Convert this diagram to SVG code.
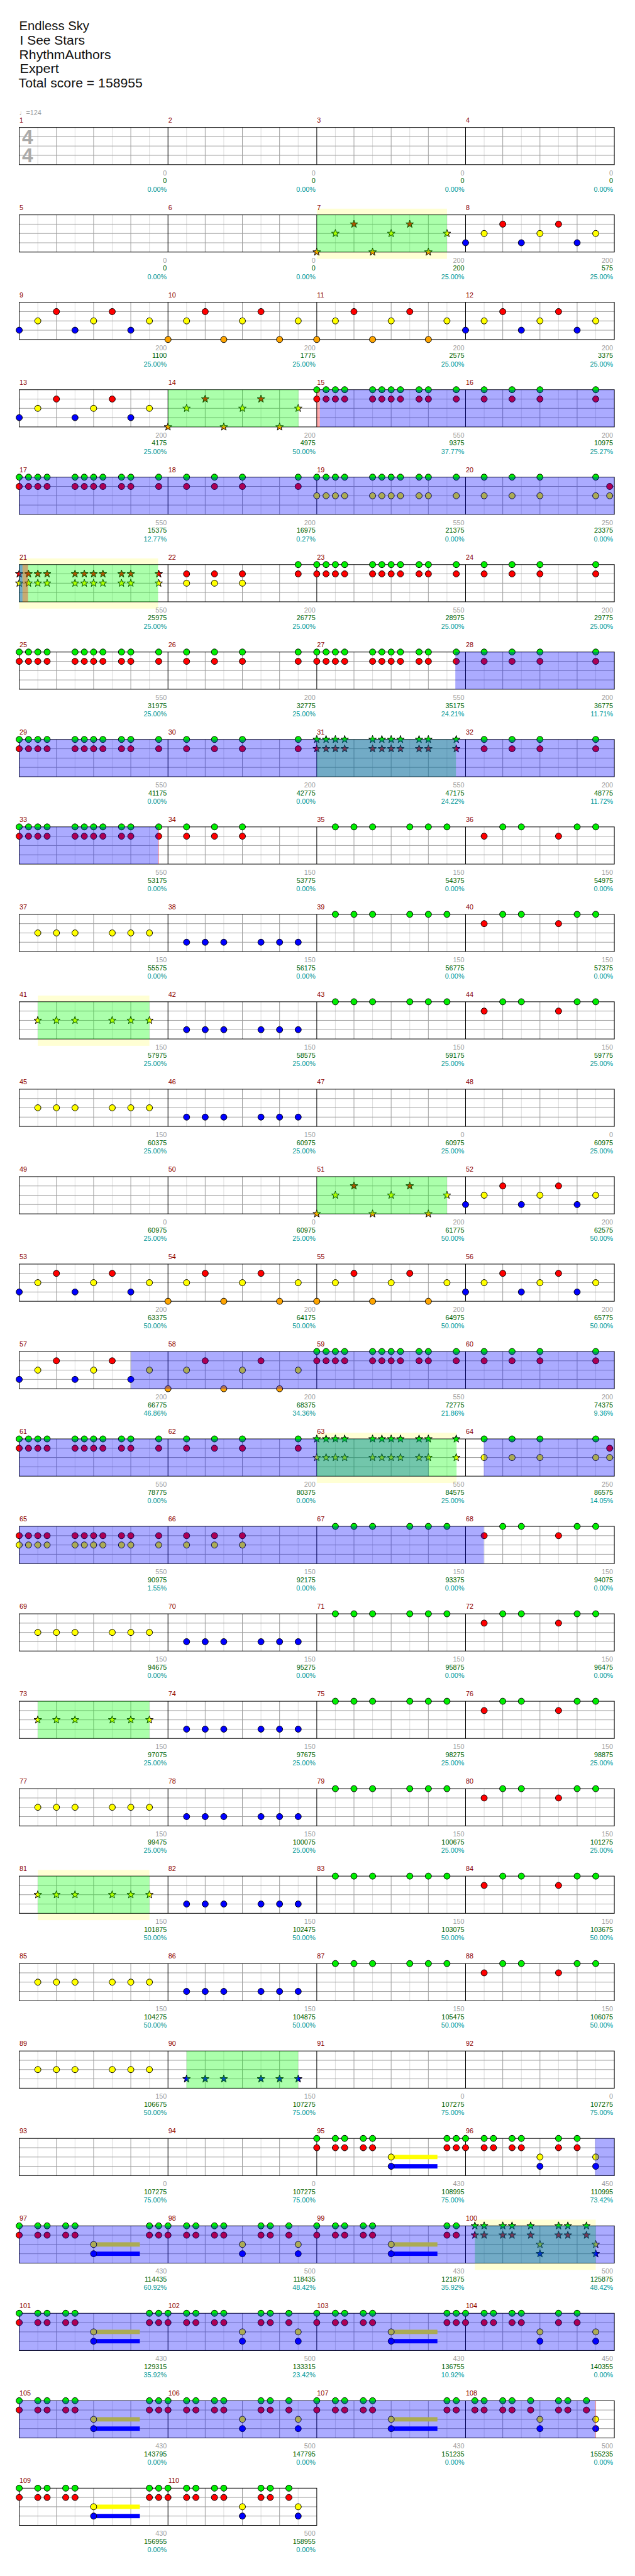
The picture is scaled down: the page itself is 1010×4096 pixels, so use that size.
<svg xmlns="http://www.w3.org/2000/svg" width="1010" height="4096" viewBox="0 0 1010 4096">
<style>
.n{stroke:#000;stroke-width:1}
.mn{font-family:"Liberation Sans",Arial,sans-serif;font-size:11px;fill:#8b0000}
.g,.s,.p{font-family:"Liberation Sans",Arial,sans-serif;font-size:11px;text-anchor:end}
.g{fill:#a0a0a0}.s{fill:#006400}.p{fill:#009999}
.ti{font-family:"Liberation Sans",Arial,sans-serif;font-size:20px;fill:#111}
.tp{font-family:"Liberation Sans","DejaVu Sans",sans-serif;font-size:11px;fill:#a0a0a0}
.ts{font-family:"Liberation Sans",Arial,sans-serif;font-size:32px;font-weight:bold;fill:#aaa}
.gr{fill:#0f0;fill-opacity:.33}
.bl{fill:#00f;fill-opacity:.33}
.rd{fill:#f00;fill-opacity:.33}
.bd{fill:#ffffd4}
</style>
<defs>
<g id="meas"><path d="M30 0V60M90 0V60M150 0V60M210 0V60" stroke="#dcdcdc"/><path d="M60 0V60M120 0V60M180 0V60M0 15H240M0 30H240M0 45H240" stroke="#a0a0a0"/></g>
<g id="row4"><rect width="960" height="60" fill="#fff"/><use href="#meas"/><use href="#meas" x="240"/><use href="#meas" x="480"/><use href="#meas" x="720"/><path d="M240 0V60M480 0V60M720 0V60" stroke="#000"/><rect width="960" height="60" fill="none" stroke="#000"/></g>
<g id="row2"><rect width="480" height="60" fill="#fff"/><use href="#meas"/><use href="#meas" x="240"/><path d="M240 0V60" stroke="#000"/><rect width="480" height="60" fill="none" stroke="#000"/></g>
<circle id="G" class="n" r="5" fill="#00ee00"/>
<circle id="R" class="n" cy="15" r="5" fill="#f00"/>
<circle id="Y" class="n" cy="30" r="5" fill="#ff0"/>
<circle id="B" class="n" cy="45" r="5" fill="#00f"/>
<circle id="O" class="n" cy="60" r="5" fill="#ffa500"/>
<path id="st" class="n" d="M0-6.5L1.53-2.1 6.18-2.01 2.47.8 3.82 5.26 0 2.6-3.82 5.26-2.47.8-6.18-2.01-1.53-2.1Z"/>
<use id="sG" href="#st" fill="#00ee00"/>
<use id="sR" href="#st" y="15" fill="#f00"/>
<use id="sY" href="#st" y="30" fill="#ff0"/>
<use id="sB" href="#st" y="45" fill="#00f"/>
<use id="sO" href="#st" y="60" fill="#ffa500"/>
<g id="GR"><use href="#G"/><use href="#R"/></g>
<g id="GY"><use href="#G"/><use href="#Y"/></g>
<g id="RY"><use href="#R"/><use href="#Y"/></g>
<g id="YB"><use href="#Y"/><use href="#B"/></g>
<g id="sGR"><use href="#sG"/><use href="#sR"/></g>
<g id="sGY"><use href="#sG"/><use href="#sY"/></g>
<g id="sRY"><use href="#sR"/><use href="#sY"/></g>
<g id="sYB"><use href="#sY"/><use href="#sB"/></g>
<g id="pBYR"><use href="#B"/><use href="#Y" x="30"/><use href="#R" x="60"/><use href="#B" x="90"/><use href="#Y" x="120"/><use href="#R" x="150"/><use href="#B" x="180"/><use href="#Y" x="210"/></g>
<g id="pOYR"><use href="#O"/><use href="#Y" x="30"/><use href="#R" x="60"/><use href="#O" x="90"/><use href="#Y" x="120"/><use href="#R" x="150"/><use href="#O" x="180"/><use href="#Y" x="210"/></g>
<g id="pOYRs"><use href="#sO"/><use href="#sY" x="30"/><use href="#sR" x="60"/><use href="#sO" x="90"/><use href="#sY" x="120"/><use href="#sR" x="150"/><use href="#sO" x="180"/><use href="#sY" x="210"/></g>
<g id="aGR"><use href="#GR"/><use href="#GR" x="15"/><use href="#GR" x="30"/><use href="#GR" x="45"/><use href="#GR" x="90"/><use href="#GR" x="105"/><use href="#GR" x="120"/><use href="#GR" x="135"/><use href="#GR" x="165"/><use href="#GR" x="180"/><use href="#GR" x="225"/></g>
<g id="aGY"><use href="#GY"/><use href="#GY" x="15"/><use href="#GY" x="30"/><use href="#GY" x="45"/><use href="#GY" x="90"/><use href="#GY" x="105"/><use href="#GY" x="120"/><use href="#GY" x="135"/><use href="#GY" x="165"/><use href="#GY" x="180"/><use href="#GY" x="225"/></g>
<g id="aRY"><use href="#RY"/><use href="#RY" x="15"/><use href="#RY" x="30"/><use href="#RY" x="45"/><use href="#RY" x="90"/><use href="#RY" x="105"/><use href="#RY" x="120"/><use href="#RY" x="135"/><use href="#RY" x="165"/><use href="#RY" x="180"/><use href="#RY" x="225"/></g>
<g id="asGR"><use href="#sGR"/><use href="#sGR" x="15"/><use href="#sGR" x="30"/><use href="#sGR" x="45"/><use href="#sGR" x="90"/><use href="#sGR" x="105"/><use href="#sGR" x="120"/><use href="#sGR" x="135"/><use href="#sGR" x="165"/><use href="#sGR" x="180"/><use href="#sGR" x="225"/></g>
<g id="asGY"><use href="#sGY"/><use href="#sGY" x="15"/><use href="#sGY" x="30"/><use href="#sGY" x="45"/><use href="#sGY" x="90"/><use href="#sGY" x="105"/><use href="#sGY" x="120"/><use href="#sGY" x="135"/><use href="#sGY" x="165"/><use href="#sGY" x="180"/><use href="#sGY" x="225"/></g>
<g id="asRY"><use href="#sRY"/><use href="#sRY" x="15"/><use href="#sRY" x="30"/><use href="#sRY" x="45"/><use href="#sRY" x="90"/><use href="#sRY" x="105"/><use href="#sRY" x="120"/><use href="#sRY" x="135"/><use href="#sRY" x="165"/><use href="#sRY" x="180"/><use href="#sRY" x="225"/></g>
<g id="bGR"><use href="#GR" x="30"/><use href="#GR" x="75"/><use href="#GR" x="120"/><use href="#GR" x="210"/></g>
<g id="bGY"><use href="#GY" x="30"/><use href="#GY" x="75"/><use href="#GY" x="120"/><use href="#GY" x="210"/></g>
<g id="kY"><use href="#Y" x="30"/><use href="#Y" x="60"/><use href="#Y" x="90"/><use href="#Y" x="150"/><use href="#Y" x="180"/><use href="#Y" x="210"/></g>
<g id="kB"><use href="#B" x="30"/><use href="#B" x="60"/><use href="#B" x="90"/><use href="#B" x="150"/><use href="#B" x="180"/><use href="#B" x="210"/></g>
<g id="kG"><use href="#G" x="30"/><use href="#G" x="60"/><use href="#G" x="90"/><use href="#G" x="150"/><use href="#G" x="180"/><use href="#G" x="210"/></g>
<g id="ksY"><use href="#sY" x="30"/><use href="#sY" x="60"/><use href="#sY" x="90"/><use href="#sY" x="150"/><use href="#sY" x="180"/><use href="#sY" x="210"/></g>
<g id="ksB"><use href="#sB" x="30"/><use href="#sB" x="60"/><use href="#sB" x="90"/><use href="#sB" x="150"/><use href="#sB" x="180"/><use href="#sB" x="210"/></g>
<g id="rg"><use href="#R" x="30"/><use href="#G" x="60"/><use href="#G" x="90"/><use href="#R" x="150"/><use href="#G" x="180"/><use href="#G" x="210"/></g>
<g id="pC"><rect x="120" y="26.5" width="74.6" height="7" fill="#ff0"/><rect x="120" y="41.5" width="74.6" height="7" fill="#00f"/><use href="#GR"/><use href="#GR" x="30"/><use href="#GR" x="45"/><use href="#GR" x="75"/><use href="#GR" x="90"/><use href="#YB" x="120"/><use href="#GR" x="210"/><use href="#GR" x="225"/></g>
<g id="pD1"><use href="#GR"/><use href="#GR" x="30"/><use href="#GR" x="45"/><use href="#GR" x="75"/><use href="#GR" x="90"/><use href="#YB" x="120"/><use href="#GR" x="150"/><use href="#GR" x="180"/><use href="#YB" x="210"/></g>
<g id="pD2"><use href="#GR"/><use href="#GR" x="30"/><use href="#GR" x="45"/><use href="#GR" x="75"/><use href="#GR" x="90"/><use href="#YB" x="120"/><use href="#GR" x="150"/><use href="#GR" x="165"/><use href="#GR" x="195"/><use href="#YB" x="210"/></g>
<g id="pD3"><use href="#GR" x="15"/><use href="#GR" x="30"/><use href="#GR" x="60"/><use href="#GR" x="75"/><use href="#GR" x="105"/><use href="#YB" x="120"/><use href="#GR" x="150"/><use href="#GR" x="165"/><use href="#GR" x="195"/><use href="#YB" x="210"/></g>
<g id="pD3s"><use href="#sGR" x="15"/><use href="#sGR" x="30"/><use href="#sGR" x="60"/><use href="#sGR" x="75"/><use href="#sGR" x="105"/><use href="#sYB" x="120"/><use href="#sGR" x="150"/><use href="#sGR" x="165"/><use href="#sGR" x="195"/><use href="#sYB" x="210"/></g>
</defs>
<g transform="scale(0.986)">
<rect x="0" y="0" width="1024" height="4153" fill="#fff"/>
<g id="title">
<text class="ti" x="31" y="49" textLength="113" lengthAdjust="spacingAndGlyphs">Endless Sky</text>
<text class="ti" x="32" y="72" textLength="105" lengthAdjust="spacingAndGlyphs">I See Stars</text>
<text class="ti" x="31" y="95" textLength="148" lengthAdjust="spacingAndGlyphs">RhythmAuthors</text>
<text class="ti" x="32" y="118" textLength="63" lengthAdjust="spacingAndGlyphs">Expert</text>
<text class="ti" x="30" y="141" textLength="200" lengthAdjust="spacingAndGlyphs">Total score = 158955</text>
</g>

<g id="r0" transform="translate(31,205.5)">
<use href="#row4"/>
<text class="tp" x="0" y="-20">♩=124</text>
<text class="ts" x="4.5" y="26.5">4</text><text class="ts" x="4.5" y="56.5">4</text>
<text class="mn" x="0.5" y="-8">1</text><text class="mn" x="240.5" y="-8">2</text><text class="mn" x="480.5" y="-8">3</text><text class="mn" x="720.5" y="-8">4</text>
<text class="g" x="238" y="77">0</text><text class="s" x="238" y="90">0</text><text class="p" x="238" y="103.5">0.00%</text>
<text class="g" x="478" y="77">0</text><text class="s" x="478" y="90">0</text><text class="p" x="478" y="103.5">0.00%</text>
<text class="g" x="718" y="77">0</text><text class="s" x="718" y="90">0</text><text class="p" x="718" y="103.5">0.00%</text>
<text class="g" x="958" y="77">0</text><text class="s" x="958" y="90">0</text><text class="p" x="958" y="103.5">0.00%</text>
</g>

<g id="r1" transform="translate(31,346.5)">
<rect class="bd" x="480" y="-10" width="210" height="81"/>
<use href="#row4"/>
<use href="#pOYRs" x="480"/><use href="#pBYR" x="720"/>
<rect class="gr" x="480" width="210" height="60"/>
<text class="mn" x="0.5" y="-8">5</text><text class="mn" x="240.5" y="-8">6</text><text class="mn" x="480.5" y="-8">7</text><text class="mn" x="720.5" y="-8">8</text>
<text class="g" x="238" y="77">0</text><text class="s" x="238" y="90">0</text><text class="p" x="238" y="103.5">0.00%</text>
<text class="g" x="478" y="77">0</text><text class="s" x="478" y="90">0</text><text class="p" x="478" y="103.5">0.00%</text>
<text class="g" x="718" y="77">200</text><text class="s" x="718" y="90">200</text><text class="p" x="718" y="103.5">25.00%</text>
<text class="g" x="958" y="77">200</text><text class="s" x="958" y="90">575</text><text class="p" x="958" y="103.5">25.00%</text>
</g>

<g id="r2" transform="translate(31,487.5)">
<use href="#row4"/>
<use href="#pBYR"/><use href="#pOYR" x="240"/><use href="#pOYR" x="480"/><use href="#pBYR" x="720"/>
<text class="mn" x="0.5" y="-8">9</text><text class="mn" x="240.5" y="-8">10</text><text class="mn" x="480.5" y="-8">11</text><text class="mn" x="720.5" y="-8">12</text>
<text class="g" x="238" y="77">200</text><text class="s" x="238" y="90">1100</text><text class="p" x="238" y="103.5">25.00%</text>
<text class="g" x="478" y="77">200</text><text class="s" x="478" y="90">1775</text><text class="p" x="478" y="103.5">25.00%</text>
<text class="g" x="718" y="77">200</text><text class="s" x="718" y="90">2575</text><text class="p" x="718" y="103.5">25.00%</text>
<text class="g" x="958" y="77">200</text><text class="s" x="958" y="90">3375</text><text class="p" x="958" y="103.5">25.00%</text>
</g>

<g id="r3" transform="translate(31,628.5)">
<use href="#row4"/>
<use href="#pBYR"/><use href="#pOYRs" x="240"/><use href="#aGR" x="480"/><use href="#bGR" x="720"/>
<rect class="gr" x="240" width="210.5" height="60"/>
<rect class="rd" x="480" width="5" height="60"/>
<rect class="bl" x="485" width="475" height="60"/>
<text class="mn" x="0.5" y="-8">13</text><text class="mn" x="240.5" y="-8">14</text><text class="mn" x="480.5" y="-8">15</text><text class="mn" x="720.5" y="-8">16</text>
<text class="g" x="238" y="77">200</text><text class="s" x="238" y="90">4175</text><text class="p" x="238" y="103.5">25.00%</text>
<text class="g" x="478" y="77">200</text><text class="s" x="478" y="90">4975</text><text class="p" x="478" y="103.5">50.00%</text>
<text class="g" x="718" y="77">550</text><text class="s" x="718" y="90">9375</text><text class="p" x="718" y="103.5">37.77%</text>
<text class="g" x="958" y="77">200</text><text class="s" x="958" y="90">10975</text><text class="p" x="958" y="103.5">25.27%</text>
</g>

<g id="r4" transform="translate(31,769.5)">
<use href="#row4"/>
<use href="#aGR"/><use href="#bGR" x="240"/><use href="#aGY" x="480"/><use href="#bGY" x="720"/><use href="#RY" x="952.5"/>
<rect class="bl" x="0" width="960" height="60"/>
<text class="mn" x="0.5" y="-8">17</text><text class="mn" x="240.5" y="-8">18</text><text class="mn" x="480.5" y="-8">19</text><text class="mn" x="720.5" y="-8">20</text>
<text class="g" x="238" y="77">550</text><text class="s" x="238" y="90">15375</text><text class="p" x="238" y="103.5">12.77%</text>
<text class="g" x="478" y="77">200</text><text class="s" x="478" y="90">16975</text><text class="p" x="478" y="103.5">0.27%</text>
<text class="g" x="718" y="77">550</text><text class="s" x="718" y="90">21375</text><text class="p" x="718" y="103.5">0.00%</text>
<text class="g" x="958" y="77">250</text><text class="s" x="958" y="90">23375</text><text class="p" x="958" y="103.5">0.00%</text>
</g>

<g id="r5" transform="translate(31,910.5)">
<rect class="bd" x="0" y="-10" width="224" height="81"/>
<use href="#row4"/>
<use href="#asRY"/><use href="#RY" x="270"/><use href="#RY" x="315"/><use href="#RY" x="360"/><use href="#GR" x="450"/><use href="#aGR" x="480"/><use href="#bGR" x="720"/>
<rect class="gr" x="0" width="224" height="60"/>
<rect class="bl" x="0" width="5.3" height="60"/>
<rect class="rd" x="5.3" width="9" height="60"/>
<text class="mn" x="0.5" y="-8">21</text><text class="mn" x="240.5" y="-8">22</text><text class="mn" x="480.5" y="-8">23</text><text class="mn" x="720.5" y="-8">24</text>
<text class="g" x="238" y="77">550</text><text class="s" x="238" y="90">25975</text><text class="p" x="238" y="103.5">25.00%</text>
<text class="g" x="478" y="77">200</text><text class="s" x="478" y="90">26775</text><text class="p" x="478" y="103.5">25.00%</text>
<text class="g" x="718" y="77">550</text><text class="s" x="718" y="90">28975</text><text class="p" x="718" y="103.5">25.00%</text>
<text class="g" x="958" y="77">200</text><text class="s" x="958" y="90">29775</text><text class="p" x="958" y="103.5">25.00%</text>
</g>

<g id="r6" transform="translate(31,1051.5)">
<use href="#row4"/>
<use href="#aGR"/><use href="#bGR" x="240"/><use href="#aGR" x="480"/><use href="#bGR" x="720"/>
<rect class="bl" x="703.5" width="256.5" height="60"/>
<text class="mn" x="0.5" y="-8">25</text><text class="mn" x="240.5" y="-8">26</text><text class="mn" x="480.5" y="-8">27</text><text class="mn" x="720.5" y="-8">28</text>
<text class="g" x="238" y="77">550</text><text class="s" x="238" y="90">31975</text><text class="p" x="238" y="103.5">25.00%</text>
<text class="g" x="478" y="77">200</text><text class="s" x="478" y="90">32775</text><text class="p" x="478" y="103.5">25.00%</text>
<text class="g" x="718" y="77">550</text><text class="s" x="718" y="90">35175</text><text class="p" x="718" y="103.5">24.21%</text>
<text class="g" x="958" y="77">200</text><text class="s" x="958" y="90">36775</text><text class="p" x="958" y="103.5">11.71%</text>
</g>

<g id="r7" transform="translate(31,1192.5)">
<use href="#row4"/>
<use href="#aGR"/><use href="#bGR" x="240"/><use href="#asGR" x="480"/><use href="#bGR" x="720"/>
<rect class="gr" x="480" width="224.5" height="60"/>
<rect class="bl" x="0" width="960" height="60"/>
<text class="mn" x="0.5" y="-8">29</text><text class="mn" x="240.5" y="-8">30</text><text class="mn" x="480.5" y="-8">31</text><text class="mn" x="720.5" y="-8">32</text>
<text class="g" x="238" y="77">550</text><text class="s" x="238" y="90">41175</text><text class="p" x="238" y="103.5">0.00%</text>
<text class="g" x="478" y="77">200</text><text class="s" x="478" y="90">42775</text><text class="p" x="478" y="103.5">0.00%</text>
<text class="g" x="718" y="77">550</text><text class="s" x="718" y="90">47175</text><text class="p" x="718" y="103.5">24.22%</text>
<text class="g" x="958" y="77">200</text><text class="s" x="958" y="90">48775</text><text class="p" x="958" y="103.5">11.72%</text>
</g>

<g id="r8" transform="translate(31,1333.5)">
<use href="#row4"/>
<use href="#aGR"/><use href="#GR" x="270"/><use href="#GR" x="315"/><use href="#GR" x="360"/><use href="#kG" x="480"/><use href="#rg" x="720"/>
<rect class="bl" x="0" width="224.4" height="60"/>
<rect class="rd" x="224" width="1.5" height="60"/>
<text class="mn" x="0.5" y="-8">33</text><text class="mn" x="240.5" y="-8">34</text><text class="mn" x="480.5" y="-8">35</text><text class="mn" x="720.5" y="-8">36</text>
<text class="g" x="238" y="77">550</text><text class="s" x="238" y="90">53175</text><text class="p" x="238" y="103.5">0.00%</text>
<text class="g" x="478" y="77">150</text><text class="s" x="478" y="90">53775</text><text class="p" x="478" y="103.5">0.00%</text>
<text class="g" x="718" y="77">150</text><text class="s" x="718" y="90">54375</text><text class="p" x="718" y="103.5">0.00%</text>
<text class="g" x="958" y="77">150</text><text class="s" x="958" y="90">54975</text><text class="p" x="958" y="103.5">0.00%</text>
</g>

<g id="r9" transform="translate(31,1474.5)">
<use href="#row4"/>
<use href="#kY"/><use href="#kB" x="240"/><use href="#kG" x="480"/><use href="#rg" x="720"/>
<text class="mn" x="0.5" y="-8">37</text><text class="mn" x="240.5" y="-8">38</text><text class="mn" x="480.5" y="-8">39</text><text class="mn" x="720.5" y="-8">40</text>
<text class="g" x="238" y="77">150</text><text class="s" x="238" y="90">55575</text><text class="p" x="238" y="103.5">0.00%</text>
<text class="g" x="478" y="77">150</text><text class="s" x="478" y="90">56175</text><text class="p" x="478" y="103.5">0.00%</text>
<text class="g" x="718" y="77">150</text><text class="s" x="718" y="90">56775</text><text class="p" x="718" y="103.5">0.00%</text>
<text class="g" x="958" y="77">150</text><text class="s" x="958" y="90">57375</text><text class="p" x="958" y="103.5">0.00%</text>
</g>

<g id="r10" transform="translate(31,1615.5)">
<rect class="bd" x="30" y="-10" width="180" height="81"/>
<use href="#row4"/>
<use href="#ksY"/><use href="#kB" x="240"/><use href="#kG" x="480"/><use href="#rg" x="720"/>
<rect class="gr" x="30" width="180" height="60"/>
<text class="mn" x="0.5" y="-8">41</text><text class="mn" x="240.5" y="-8">42</text><text class="mn" x="480.5" y="-8">43</text><text class="mn" x="720.5" y="-8">44</text>
<text class="g" x="238" y="77">150</text><text class="s" x="238" y="90">57975</text><text class="p" x="238" y="103.5">25.00%</text>
<text class="g" x="478" y="77">150</text><text class="s" x="478" y="90">58575</text><text class="p" x="478" y="103.5">25.00%</text>
<text class="g" x="718" y="77">150</text><text class="s" x="718" y="90">59175</text><text class="p" x="718" y="103.5">25.00%</text>
<text class="g" x="958" y="77">150</text><text class="s" x="958" y="90">59775</text><text class="p" x="958" y="103.5">25.00%</text>
</g>

<g id="r11" transform="translate(31,1756.5)">
<use href="#row4"/>
<use href="#kY"/><use href="#kB" x="240"/>
<text class="mn" x="0.5" y="-8">45</text><text class="mn" x="240.5" y="-8">46</text><text class="mn" x="480.5" y="-8">47</text><text class="mn" x="720.5" y="-8">48</text>
<text class="g" x="238" y="77">150</text><text class="s" x="238" y="90">60375</text><text class="p" x="238" y="103.5">25.00%</text>
<text class="g" x="478" y="77">150</text><text class="s" x="478" y="90">60975</text><text class="p" x="478" y="103.5">25.00%</text>
<text class="g" x="718" y="77">0</text><text class="s" x="718" y="90">60975</text><text class="p" x="718" y="103.5">25.00%</text>
<text class="g" x="958" y="77">0</text><text class="s" x="958" y="90">60975</text><text class="p" x="958" y="103.5">25.00%</text>
</g>

<g id="r12" transform="translate(31,1897.5)">
<use href="#row4"/>
<use href="#pOYRs" x="480"/><use href="#pBYR" x="720"/>
<rect class="gr" x="480" width="210" height="60"/>
<text class="mn" x="0.5" y="-8">49</text><text class="mn" x="240.5" y="-8">50</text><text class="mn" x="480.5" y="-8">51</text><text class="mn" x="720.5" y="-8">52</text>
<text class="g" x="238" y="77">0</text><text class="s" x="238" y="90">60975</text><text class="p" x="238" y="103.5">25.00%</text>
<text class="g" x="478" y="77">0</text><text class="s" x="478" y="90">60975</text><text class="p" x="478" y="103.5">25.00%</text>
<text class="g" x="718" y="77">200</text><text class="s" x="718" y="90">61775</text><text class="p" x="718" y="103.5">50.00%</text>
<text class="g" x="958" y="77">200</text><text class="s" x="958" y="90">62575</text><text class="p" x="958" y="103.5">50.00%</text>
</g>

<g id="r13" transform="translate(31,2038.5)">
<use href="#row4"/>
<use href="#pBYR"/><use href="#pOYR" x="240"/><use href="#pOYR" x="480"/><use href="#pBYR" x="720"/>
<text class="mn" x="0.5" y="-8">53</text><text class="mn" x="240.5" y="-8">54</text><text class="mn" x="480.5" y="-8">55</text><text class="mn" x="720.5" y="-8">56</text>
<text class="g" x="238" y="77">200</text><text class="s" x="238" y="90">63375</text><text class="p" x="238" y="103.5">50.00%</text>
<text class="g" x="478" y="77">200</text><text class="s" x="478" y="90">64175</text><text class="p" x="478" y="103.5">50.00%</text>
<text class="g" x="718" y="77">200</text><text class="s" x="718" y="90">64975</text><text class="p" x="718" y="103.5">50.00%</text>
<text class="g" x="958" y="77">200</text><text class="s" x="958" y="90">65775</text><text class="p" x="958" y="103.5">50.00%</text>
</g>

<g id="r14" transform="translate(31,2179.5)">
<use href="#row4"/>
<use href="#pBYR"/><use href="#pOYR" x="240"/><use href="#aGR" x="480"/><use href="#bGR" x="720"/>
<rect class="bl" x="180.5" width="779.5" height="60"/>
<text class="mn" x="0.5" y="-8">57</text><text class="mn" x="240.5" y="-8">58</text><text class="mn" x="480.5" y="-8">59</text><text class="mn" x="720.5" y="-8">60</text>
<text class="g" x="238" y="77">200</text><text class="s" x="238" y="90">66775</text><text class="p" x="238" y="103.5">46.86%</text>
<text class="g" x="478" y="77">200</text><text class="s" x="478" y="90">68375</text><text class="p" x="478" y="103.5">34.36%</text>
<text class="g" x="718" y="77">550</text><text class="s" x="718" y="90">72775</text><text class="p" x="718" y="103.5">21.86%</text>
<text class="g" x="958" y="77">200</text><text class="s" x="958" y="90">74375</text><text class="p" x="958" y="103.5">9.36%</text>
</g>

<g id="r15" transform="translate(31,2320.5)">
<rect class="bd" x="480" y="-10" width="225.5" height="81"/>
<use href="#row4"/>
<use href="#aGR"/><use href="#bGR" x="240"/><use href="#asGY" x="480"/><use href="#bGY" x="720"/><use href="#RY" x="952.5"/>
<rect class="bl" x="0" width="660.5" height="60"/>
<rect class="gr" x="480" width="225.5" height="60"/>
<rect class="bl" x="749.5" width="210.5" height="60"/>
<text class="mn" x="0.5" y="-8">61</text><text class="mn" x="240.5" y="-8">62</text><text class="mn" x="480.5" y="-8">63</text><text class="mn" x="720.5" y="-8">64</text>
<text class="g" x="238" y="77">550</text><text class="s" x="238" y="90">78775</text><text class="p" x="238" y="103.5">0.00%</text>
<text class="g" x="478" y="77">200</text><text class="s" x="478" y="90">80375</text><text class="p" x="478" y="103.5">0.00%</text>
<text class="g" x="718" y="77">550</text><text class="s" x="718" y="90">84575</text><text class="p" x="718" y="103.5">25.00%</text>
<text class="g" x="958" y="77">250</text><text class="s" x="958" y="90">86575</text><text class="p" x="958" y="103.5">14.05%</text>
</g>

<g id="r16" transform="translate(31,2461.5)">
<use href="#row4"/>
<use href="#aRY"/><use href="#RY" x="270"/><use href="#RY" x="315"/><use href="#RY" x="360"/><use href="#kG" x="480"/><use href="#rg" x="720"/>
<rect class="bl" x="0" width="749.5" height="60"/>
<text class="mn" x="0.5" y="-8">65</text><text class="mn" x="240.5" y="-8">66</text><text class="mn" x="480.5" y="-8">67</text><text class="mn" x="720.5" y="-8">68</text>
<text class="g" x="238" y="77">550</text><text class="s" x="238" y="90">90975</text><text class="p" x="238" y="103.5">1.55%</text>
<text class="g" x="478" y="77">150</text><text class="s" x="478" y="90">92175</text><text class="p" x="478" y="103.5">0.00%</text>
<text class="g" x="718" y="77">150</text><text class="s" x="718" y="90">93375</text><text class="p" x="718" y="103.5">0.00%</text>
<text class="g" x="958" y="77">150</text><text class="s" x="958" y="90">94075</text><text class="p" x="958" y="103.5">0.00%</text>
</g>

<g id="r17" transform="translate(31,2602.5)">
<use href="#row4"/>
<use href="#kY"/><use href="#kB" x="240"/><use href="#kG" x="480"/><use href="#rg" x="720"/>
<text class="mn" x="0.5" y="-8">69</text><text class="mn" x="240.5" y="-8">70</text><text class="mn" x="480.5" y="-8">71</text><text class="mn" x="720.5" y="-8">72</text>
<text class="g" x="238" y="77">150</text><text class="s" x="238" y="90">94675</text><text class="p" x="238" y="103.5">0.00%</text>
<text class="g" x="478" y="77">150</text><text class="s" x="478" y="90">95275</text><text class="p" x="478" y="103.5">0.00%</text>
<text class="g" x="718" y="77">150</text><text class="s" x="718" y="90">95875</text><text class="p" x="718" y="103.5">0.00%</text>
<text class="g" x="958" y="77">150</text><text class="s" x="958" y="90">96475</text><text class="p" x="958" y="103.5">0.00%</text>
</g>

<g id="r18" transform="translate(31,2743.5)">
<use href="#row4"/>
<use href="#ksY"/><use href="#kB" x="240"/><use href="#kG" x="480"/><use href="#rg" x="720"/>
<rect class="gr" x="30" width="180" height="60"/>
<text class="mn" x="0.5" y="-8">73</text><text class="mn" x="240.5" y="-8">74</text><text class="mn" x="480.5" y="-8">75</text><text class="mn" x="720.5" y="-8">76</text>
<text class="g" x="238" y="77">150</text><text class="s" x="238" y="90">97075</text><text class="p" x="238" y="103.5">25.00%</text>
<text class="g" x="478" y="77">150</text><text class="s" x="478" y="90">97675</text><text class="p" x="478" y="103.5">25.00%</text>
<text class="g" x="718" y="77">150</text><text class="s" x="718" y="90">98275</text><text class="p" x="718" y="103.5">25.00%</text>
<text class="g" x="958" y="77">150</text><text class="s" x="958" y="90">98875</text><text class="p" x="958" y="103.5">25.00%</text>
</g>

<g id="r19" transform="translate(31,2884.5)">
<use href="#row4"/>
<use href="#kY"/><use href="#kB" x="240"/><use href="#kG" x="480"/><use href="#rg" x="720"/>
<text class="mn" x="0.5" y="-8">77</text><text class="mn" x="240.5" y="-8">78</text><text class="mn" x="480.5" y="-8">79</text><text class="mn" x="720.5" y="-8">80</text>
<text class="g" x="238" y="77">150</text><text class="s" x="238" y="90">99475</text><text class="p" x="238" y="103.5">25.00%</text>
<text class="g" x="478" y="77">150</text><text class="s" x="478" y="90">100075</text><text class="p" x="478" y="103.5">25.00%</text>
<text class="g" x="718" y="77">150</text><text class="s" x="718" y="90">100675</text><text class="p" x="718" y="103.5">25.00%</text>
<text class="g" x="958" y="77">150</text><text class="s" x="958" y="90">101275</text><text class="p" x="958" y="103.5">25.00%</text>
</g>

<g id="r20" transform="translate(31,3025.5)">
<rect class="bd" x="30" y="-10" width="180" height="81"/>
<use href="#row4"/>
<use href="#ksY"/><use href="#kB" x="240"/><use href="#kG" x="480"/><use href="#rg" x="720"/>
<rect class="gr" x="30" width="180" height="60"/>
<text class="mn" x="0.5" y="-8">81</text><text class="mn" x="240.5" y="-8">82</text><text class="mn" x="480.5" y="-8">83</text><text class="mn" x="720.5" y="-8">84</text>
<text class="g" x="238" y="77">150</text><text class="s" x="238" y="90">101875</text><text class="p" x="238" y="103.5">50.00%</text>
<text class="g" x="478" y="77">150</text><text class="s" x="478" y="90">102475</text><text class="p" x="478" y="103.5">50.00%</text>
<text class="g" x="718" y="77">150</text><text class="s" x="718" y="90">103075</text><text class="p" x="718" y="103.5">50.00%</text>
<text class="g" x="958" y="77">150</text><text class="s" x="958" y="90">103675</text><text class="p" x="958" y="103.5">50.00%</text>
</g>

<g id="r21" transform="translate(31,3166.5)">
<use href="#row4"/>
<use href="#kY"/><use href="#kB" x="240"/><use href="#kG" x="480"/><use href="#rg" x="720"/>
<text class="mn" x="0.5" y="-8">85</text><text class="mn" x="240.5" y="-8">86</text><text class="mn" x="480.5" y="-8">87</text><text class="mn" x="720.5" y="-8">88</text>
<text class="g" x="238" y="77">150</text><text class="s" x="238" y="90">104275</text><text class="p" x="238" y="103.5">50.00%</text>
<text class="g" x="478" y="77">150</text><text class="s" x="478" y="90">104875</text><text class="p" x="478" y="103.5">50.00%</text>
<text class="g" x="718" y="77">150</text><text class="s" x="718" y="90">105475</text><text class="p" x="718" y="103.5">50.00%</text>
<text class="g" x="958" y="77">150</text><text class="s" x="958" y="90">106075</text><text class="p" x="958" y="103.5">50.00%</text>
</g>

<g id="r22" transform="translate(31,3307.5)">
<use href="#row4"/>
<use href="#kY"/><use href="#ksB" x="240"/>
<rect class="gr" x="270" width="180" height="60"/>
<text class="mn" x="0.5" y="-8">89</text><text class="mn" x="240.5" y="-8">90</text><text class="mn" x="480.5" y="-8">91</text><text class="mn" x="720.5" y="-8">92</text>
<text class="g" x="238" y="77">150</text><text class="s" x="238" y="90">106675</text><text class="p" x="238" y="103.5">50.00%</text>
<text class="g" x="478" y="77">150</text><text class="s" x="478" y="90">107275</text><text class="p" x="478" y="103.5">75.00%</text>
<text class="g" x="718" y="77">0</text><text class="s" x="718" y="90">107275</text><text class="p" x="718" y="103.5">75.00%</text>
<text class="g" x="958" y="77">0</text><text class="s" x="958" y="90">107275</text><text class="p" x="958" y="103.5">75.00%</text>
</g>

<g id="r23" transform="translate(31,3448.5)">
<use href="#row4"/>
<use href="#pC" x="480"/><use href="#pD1" x="720"/>
<rect class="bl" x="929" width="31" height="60"/>
<text class="mn" x="0.5" y="-8">93</text><text class="mn" x="240.5" y="-8">94</text><text class="mn" x="480.5" y="-8">95</text><text class="mn" x="720.5" y="-8">96</text>
<text class="g" x="238" y="77">0</text><text class="s" x="238" y="90">107275</text><text class="p" x="238" y="103.5">75.00%</text>
<text class="g" x="478" y="77">0</text><text class="s" x="478" y="90">107275</text><text class="p" x="478" y="103.5">75.00%</text>
<text class="g" x="718" y="77">430</text><text class="s" x="718" y="90">108995</text><text class="p" x="718" y="103.5">75.00%</text>
<text class="g" x="958" y="77">450</text><text class="s" x="958" y="90">110995</text><text class="p" x="958" y="103.5">73.42%</text>
</g>

<g id="r24" transform="translate(31,3589.5)">
<rect class="bd" x="735" y="-10" width="195" height="81"/>
<use href="#row4"/>
<use href="#pC"/><use href="#pD2" x="240"/><use href="#pC" x="480"/><use href="#pD3s" x="720"/>
<rect class="gr" x="735" width="195" height="60"/>
<rect class="bl" x="0" width="960" height="60"/>
<text class="mn" x="0.5" y="-8">97</text><text class="mn" x="240.5" y="-8">98</text><text class="mn" x="480.5" y="-8">99</text><text class="mn" x="720.5" y="-8">100</text>
<text class="g" x="238" y="77">430</text><text class="s" x="238" y="90">114435</text><text class="p" x="238" y="103.5">60.92%</text>
<text class="g" x="478" y="77">500</text><text class="s" x="478" y="90">118435</text><text class="p" x="478" y="103.5">48.42%</text>
<text class="g" x="718" y="77">430</text><text class="s" x="718" y="90">121875</text><text class="p" x="718" y="103.5">35.92%</text>
<text class="g" x="958" y="77">500</text><text class="s" x="958" y="90">125875</text><text class="p" x="958" y="103.5">48.42%</text>
</g>

<g id="r25" transform="translate(31,3730.5)">
<use href="#row4"/>
<use href="#pC"/><use href="#pD2" x="240"/><use href="#pC" x="480"/><use href="#pD1" x="720"/>
<rect class="bl" x="0" width="960" height="60"/>
<text class="mn" x="0.5" y="-8">101</text><text class="mn" x="240.5" y="-8">102</text><text class="mn" x="480.5" y="-8">103</text><text class="mn" x="720.5" y="-8">104</text>
<text class="g" x="238" y="77">430</text><text class="s" x="238" y="90">129315</text><text class="p" x="238" y="103.5">35.92%</text>
<text class="g" x="478" y="77">500</text><text class="s" x="478" y="90">133315</text><text class="p" x="478" y="103.5">23.42%</text>
<text class="g" x="718" y="77">430</text><text class="s" x="718" y="90">136755</text><text class="p" x="718" y="103.5">10.92%</text>
<text class="g" x="958" y="77">450</text><text class="s" x="958" y="90">140355</text><text class="p" x="958" y="103.5">0.00%</text>
</g>

<g id="r26" transform="translate(31,3871.5)">
<use href="#row4"/>
<use href="#pC"/><use href="#pD2" x="240"/><use href="#pC" x="480"/><use href="#pD3" x="720"/>
<rect class="bl" x="0" width="929" height="60"/>
<rect class="rd" x="929" width="1.5" height="60"/>
<text class="mn" x="0.5" y="-8">105</text><text class="mn" x="240.5" y="-8">106</text><text class="mn" x="480.5" y="-8">107</text><text class="mn" x="720.5" y="-8">108</text>
<text class="g" x="238" y="77">430</text><text class="s" x="238" y="90">143795</text><text class="p" x="238" y="103.5">0.00%</text>
<text class="g" x="478" y="77">500</text><text class="s" x="478" y="90">147795</text><text class="p" x="478" y="103.5">0.00%</text>
<text class="g" x="718" y="77">430</text><text class="s" x="718" y="90">151235</text><text class="p" x="718" y="103.5">0.00%</text>
<text class="g" x="958" y="77">500</text><text class="s" x="958" y="90">155235</text><text class="p" x="958" y="103.5">0.00%</text>
</g>

<g id="r27" transform="translate(31,4012.5)">
<use href="#row2"/>
<use href="#pC"/><use href="#pD2" x="240"/>
<text class="mn" x="0.5" y="-8">109</text><text class="mn" x="240.5" y="-8">110</text>
<text class="g" x="238" y="77">430</text><text class="s" x="238" y="90">156955</text><text class="p" x="238" y="103.5">0.00%</text>
<text class="g" x="478" y="77">500</text><text class="s" x="478" y="90">158955</text><text class="p" x="478" y="103.5">0.00%</text>
</g>
</g>
</svg>
